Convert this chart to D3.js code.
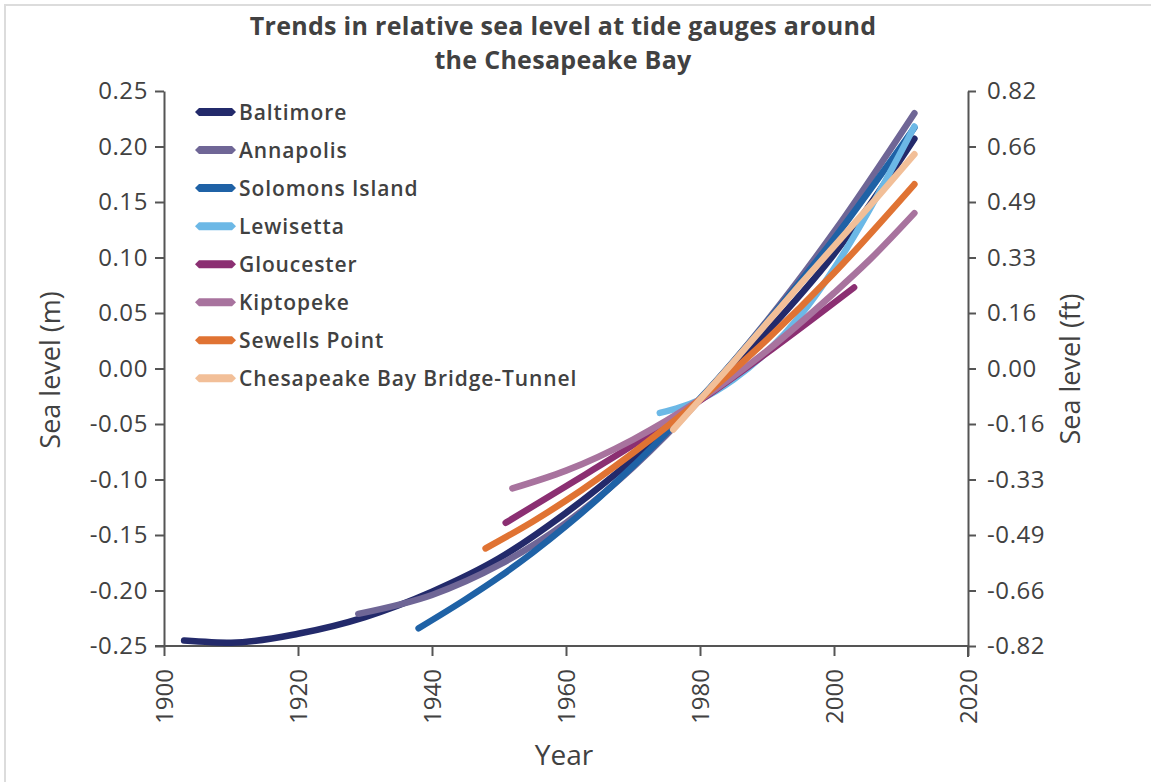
<!DOCTYPE html>
<html>
<head>
<meta charset="utf-8">
<script src="https://cdn.jsdelivr.net/npm/d3@7"></script>
<style>
  html, body { margin: 0; padding: 0; background: #ffffff; }
  svg { display: block; }
  text { font-family: "Open Sans", "Noto Sans", sans-serif; fill: #414141; }
</style>
</head>
<body>
<svg id="chart" width="1151" height="782"></svg>
<script>
// Relative sea level trend curves (m), [year, level] pairs per tide gauge
const baltimore = [[1903,-0.245],[1910,-0.247],[1920,-0.239],[1930,-0.224],[1940,-0.201],[1950,-0.171],[1960,-0.130],[1970,-0.082],[1980,-0.028],[1990,0.033],[2000,0.103],[2012,0.207]];
const annapolis = [[1929,-0.221],[1940,-0.204],[1950,-0.177],[1960,-0.139],[1970,-0.089],[1980,-0.028],[1990,0.043],[2000,0.123],[2012,0.230]];
const solomonsIsland = [[1938,-0.234],[1945,-0.208],[1950,-0.188],[1955,-0.166],[1960,-0.142],[1965,-0.116],[1970,-0.088],[1975,-0.058],[1980,-0.027],[1990,0.042],[2000,0.117],[2012,0.217]];
const lewisetta = [[1974,-0.040],[1977,-0.035],[1980,-0.028],[1985,-0.010],[1990,0.015],[1995,0.048],[2000,0.090],[2005,0.140],[2012,0.218]];
const gloucester = [[1951,-0.139],[1960,-0.106],[1970,-0.069],[1980,-0.029],[1990,0.014],[2003,0.073]];
const kiptopeke = [[1952,-0.108],[1960,-0.092],[1970,-0.064],[1980,-0.028],[1990,0.016],[2000,0.068],[2005,0.096],[2012,0.140]];
const sewellsPoint = [[1948,-0.162],[1955,-0.138],[1960,-0.119],[1970,-0.076],[1980,-0.028],[1990,0.026],[2000,0.086],[2012,0.166]];
const cbbt = [[1976,-0.055],[1980,-0.028],[1985,0.006],[1990,0.041],[1995,0.076],[2000,0.110],[2006,0.151],[2012,0.193]];

const stationNames = ["Baltimore","Annapolis","Solomons Island","Lewisetta","Gloucester","Kiptopeke","Sewells Point","Chesapeake Bay Bridge-Tunnel"];
const stationSeries = [baltimore, annapolis, solomonsIsland, lewisetta, gloucester, kiptopeke, sewellsPoint, cbbt];
const stationColors = ["#232a6b","#6f6696","#1f62a6","#6cb8e6","#8b2f72","#a8739e","#e07333","#f2bf98"];

const yearTicks = [1900,1920,1940,1960,1980,2000,2020];
const meterTicks = [0.25,0.20,0.15,0.10,0.05,0.00,-0.05,-0.10,-0.15,-0.20,-0.25];
const feetTickLabels = ["0.82","0.66","0.49","0.33","0.16","0.00","-0.16","-0.33","-0.49","-0.66","-0.82"];

const titleLines = ["Trends in relative sea level at tide gauges around","the Chesapeake Bay"];

const svg = d3.select("#chart");
const plotLeft = 164, plotRight = 968, plotTop = 91, plotBottom = 646;

// outer frame
svg.append("rect").attr("x", 5).attr("y", 5).attr("width", 1200).attr("height", 900)
  .attr("fill", "none").attr("stroke", "#dcdcdc").attr("stroke-width", 2);

const x = d3.scaleLinear().domain([1900, 2020]).range([plotLeft, plotRight]);
const y = d3.scaleLinear().domain([-0.25, 0.25]).range([plotBottom, plotTop]);

const axisColor = "#555555";

// left axis (metres)
const gLeft = svg.append("g").attr("transform", `translate(${plotLeft},0)`)
  .call(d3.axisLeft(y).tickValues(meterTicks).tickFormat(d => d.toFixed(2)).tickSize(9).tickSizeOuter(0).tickPadding(7));
// right axis (feet)
const gRight = svg.append("g").attr("transform", `translate(${plotRight},0)`)
  .call(d3.axisRight(y).tickValues(meterTicks).tickFormat((d, i) => feetTickLabels[i]).tickSize(8).tickSizeOuter(0).tickPadding(11));
gRight.append("line").attr("x1", 0).attr("x2", 0).attr("y1", plotBottom).attr("y2", plotBottom + 11)
  .attr("stroke", axisColor).attr("stroke-width", 2);
// bottom axis (years)
const gBottom = svg.append("g").attr("transform", `translate(0,${plotBottom})`)
  .call(d3.axisBottom(x).tickValues(yearTicks).tickFormat(d3.format("d")).tickSize(10).tickSizeOuter(0));
gBottom.select(".domain").attr("d", `M${plotLeft - 9},0H${plotRight}`);
gBottom.selectAll(".tick text")
  .attr("transform", "rotate(-90)")
  .attr("text-anchor", "end")
  .attr("x", -23).attr("y", 0).attr("dy", "0.36em");

[gLeft, gRight, gBottom].forEach(g => {
  g.selectAll(".domain").attr("stroke", axisColor).attr("stroke-width", 2);
  g.selectAll(".tick line").attr("stroke", axisColor).attr("stroke-width", 2);
  g.selectAll(".tick text").attr("font-size", 24).attr("fill", "#414141")
    .attr("font-family", "'Open Sans', sans-serif");
});
gLeft.selectAll(".tick text").attr("letter-spacing", "0.6px");
gRight.selectAll(".tick text").attr("letter-spacing", "0.6px");

// trend curves
const line = d3.line().x(d => x(d[0])).y(d => y(d[1])).curve(d3.curveMonotoneX);
svg.append("g").selectAll("path").data(stationSeries).join("path")
  .attr("d", line)
  .attr("fill", "none")
  .attr("stroke", (d, i) => stationColors[i])
  .attr("stroke-width", 6.5)
  .attr("stroke-linecap", "round")
  .attr("stroke-linejoin", "round");

// legend
const legend = svg.append("g").attr("transform", "translate(195,112)");
const item = legend.selectAll("g").data(stationNames).join("g")
  .attr("transform", (d, i) => `translate(0,${i * 38.05})`);
item.append("path")
  .attr("d", "M0,0L4,-4H37L41,0L37,4H4Z")
  .attr("fill", (d, i) => stationColors[i]);
item.append("text")
  .attr("x", 44).attr("y", 0).attr("dy", "0.36em")
  .attr("font-size", 21).attr("font-weight", 600).attr("letter-spacing", "0.9px")
  .attr("fill", "#3d3d3d")
  .text(d => d);

// two-line title
svg.append("g").selectAll("text").data(titleLines).join("text")
  .attr("x", 563).attr("y", (d, i) => 35 + i * 34)
  .attr("text-anchor", "middle")
  .attr("font-size", 25).attr("font-weight", 700).attr("letter-spacing", "0.3px")
  .attr("fill", "#3a3a3a")
  .text(d => d);

// axis titles
svg.append("text").attr("transform", "translate(60,370) rotate(-90)")
  .attr("text-anchor", "middle").attr("font-size", 27).attr("fill", "#414141")
  .text("Sea level (m)");
svg.append("text").attr("transform", "translate(1080,369) rotate(-90)")
  .attr("text-anchor", "middle").attr("font-size", 27).attr("fill", "#414141")
  .text("Sea level (ft)");
svg.append("text").attr("x", 564).attr("y", 765)
  .attr("text-anchor", "middle").attr("font-size", 28).attr("fill", "#414141")
  .text("Year");
</script>
</body>
</html>
